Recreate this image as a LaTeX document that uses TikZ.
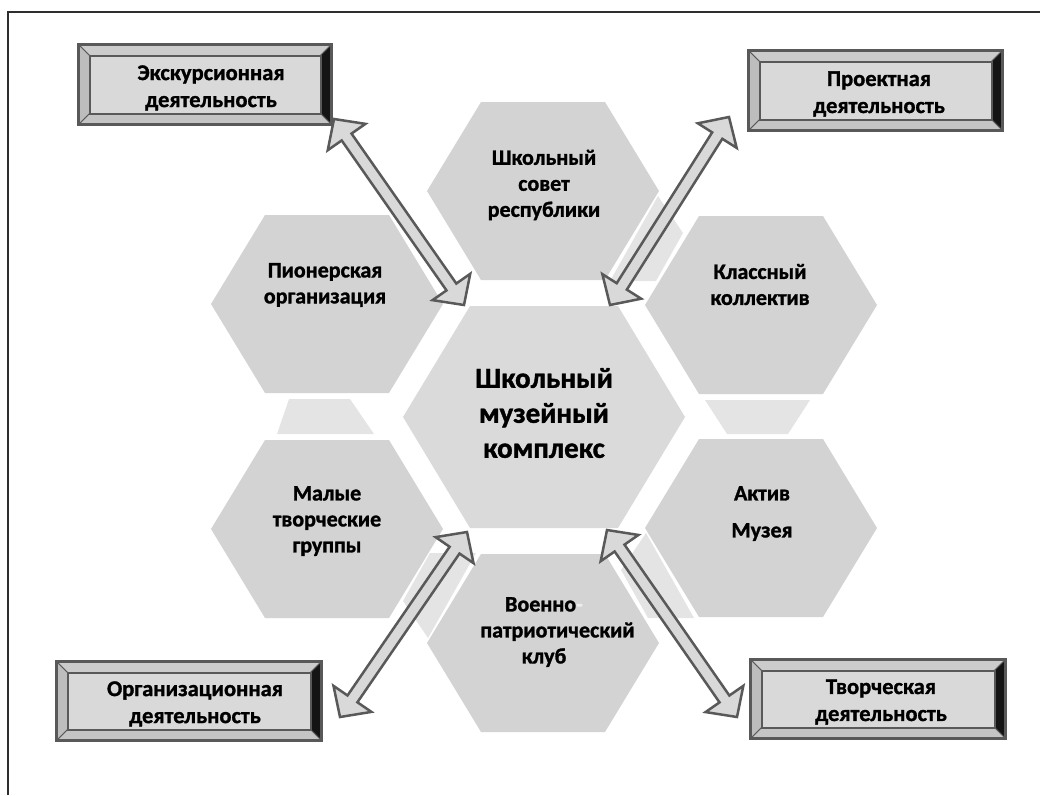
\documentclass[tikz,border=0pt]{standalone}
\usepackage{fontspec}
\setmainfont{Carlito}[BoldFeatures={FakeBold=1.3}]
\usepackage{tikz}
\usetikzlibrary{calc}
\definecolor{hexgray}{HTML}{D3D3D3}
\definecolor{hubgray}{HTML}{DADADA}
\definecolor{gapgray}{HTML}{E4E4E4}
\definecolor{edgegray}{HTML}{595959}
\definecolor{facegray}{HTML}{D9D9D9}
\definecolor{bevtopc}{HTML}{CCCCCC}
\definecolor{bevleftc}{HTML}{BDBDBD}
\definecolor{bevbotc}{HTML}{C4C4C4}
\definecolor{bevrightc}{HTML}{141414}
\definecolor{framec}{HTML}{2E2E2E}
\definecolor{hyphc}{HTML}{EDEDED}
\tikzstyle{hexcell} = [fill=hexgray]
\tikzstyle{hubcell} = [fill=hubgray]
\tikzstyle{gapcell} = [fill=gapgray]
\tikzstyle{celltext} = [inner sep=0,align=center,font=\bfseries\fontsize{22}{26}\selectfont]
\tikzstyle{hubtext} = [celltext,font=\bfseries\fontsize{29}{35}\selectfont]
\tikzstyle{boxtext} = [celltext,font=\bfseries\fontsize{22.5}{27}\selectfont]
\tikzstyle{boxbody} = [fill=facegray,inner sep=0,outer sep=0]
\tikzstyle{bevel} = [draw=edgegray,line width=0.8pt]
\tikzstyle{blockarr} = [draw=edgegray,fill=facegray,line width=2.5pt,line join=miter]
\newcommand\bev{11}
\newcommand\ahl{22pt}
\newcommand\ahw{23pt}
\newcommand\ahs{6pt}
\newcommand\outerhex[1]{\fill[hexcell] (#1) ++(-116,0) -- ++(54,-89) -- ++(124,0) -- ++(54,89) -- ++(-54,89) -- ++(-124,0) -- cycle;}
\newcommand\bevelbox[4]{%
  \node[boxbody,minimum width=#3pt,minimum height=#4pt] (#1) at (#2) {};
  \coordinate (#1-a) at ($(#1.north west)+(\bev,\bev)$);
  \coordinate (#1-b) at ($(#1.north east)+(-\bev,\bev)$);
  \coordinate (#1-c) at ($(#1.south east)+(-\bev,-\bev)$);
  \coordinate (#1-d) at ($(#1.south west)+(\bev,-\bev)$);
  \filldraw[bevel,fill=bevtopc] (#1.north west) -- (#1.north east) -- (#1-b) -- (#1-a) -- cycle;
  \filldraw[bevel,fill=bevrightc] (#1.north east) -- (#1.south east) -- (#1-c) -- (#1-b) -- cycle;
  \filldraw[bevel,fill=bevbotc] (#1.south east) -- (#1.south west) -- (#1-d) -- (#1-c) -- cycle;
  \filldraw[bevel,fill=bevleftc] (#1.south west) -- (#1.north west) -- (#1-a) -- (#1-d) -- cycle;
  \draw[edgegray,line width=2pt] (#1-a) rectangle (#1-c);
  \draw[edgegray,line width=3pt] (#1.north west) rectangle (#1.south east);
}
\newcommand\dblarrow[2]{%
  \draw[blockarr] (#1)
    -- ($(#1)!\ahl!(#2)!\ahw!90:(#2)$)
    -- ($(#1)!\ahl!(#2)!\ahs!90:(#2)$)
    -- ($(#2)!\ahl!(#1)!\ahs!-90:(#1)$)
    -- ($(#2)!\ahl!(#1)!\ahw!-90:(#1)$)
    -- (#2)
    -- ($(#2)!\ahl!(#1)!\ahw!90:(#1)$)
    -- ($(#2)!\ahl!(#1)!\ahs!90:(#1)$)
    -- ($(#1)!\ahl!(#2)!\ahs!-90:(#2)$)
    -- ($(#1)!\ahl!(#2)!\ahw!-90:(#2)$)
    -- cycle;}
\begin{document}
\begin{tikzpicture}[x=1pt,y=-1pt]
    \useasboundingbox (0,0) rectangle (1040,795);
    \draw[framec,line width=1.5pt] (8,795) -- (8,12) -- (1040,12);

    % small pieces between the cells
    \fill[gapcell] (289,399) -- (350,399) -- (374,434) -- (277,434) -- cycle;
    \fill[gapcell] (705,400) -- (810,400) -- (788,434) -- (727,434) -- cycle;
    \fill[gapcell] (658,196) -- (683,233) -- (656,281) -- (610,281) -- cycle;
    \fill[gapcell] (428,638) -- (403,601) -- (430,553) -- (476,553) -- cycle;
    \fill[gapcell] (646,533) -- (621,570) -- (648,618) -- (694,618) -- cycle;

    % cells
    \coordinate (hT) at (543,191);
    \coordinate (hUL) at (327,304);
    \coordinate (hUR) at (761,305);
    \coordinate (hLL) at (327,529);
    \coordinate (hLR) at (761,528);
    \coordinate (hB) at (543,643);
    \coordinate (hC) at (544,417);
    \outerhex{hT}
    \outerhex{hUL}
    \outerhex{hUR}
    \outerhex{hLL}
    \outerhex{hLR}
    \outerhex{hB}
    \fill[hubcell] (hC) ++(-141,0) -- ++(67,-111) -- ++(148,0) -- ++(67,111) -- ++(-67,111) -- ++(-148,0) -- cycle;

    \node[hubtext] (hub) at (544,413) {Школьный\\музейный\\комплекс};
    \node[celltext] (sovet) at (544,185) {Школьный\\совет\\республики};
    \node[celltext] (pioner) at (325,285) {Пионерская\\организация};
    \node[celltext] (klass) at (760,284.5) {Классный\\коллектив};
    \node[celltext] (malye) at (327,521) {Малые\\творческие\\группы};
    \node[celltext] (aktiv) at (762,513.5) {Актив\\[11pt]Музея};
    \node[celltext] (voen) at (544,632) {Военно\textcolor{hyphc}{-}\\\hspace*{27pt}патриотический\\клуб};

    % activity boxes
    \bevelbox{exk}{205,84.5}{253}{80}
    \bevelbox{prj}{875.5,90.5}{254}{80}
    \bevelbox{org}{189,701}{265}{79}
    \bevelbox{tvr}{878,699}{255}{79}
    \node[boxtext] (exk-t) at (211,88) {Экскурсионная\\деятельность};
    \node[boxtext] (prj-t) at (879,94) {Проектная\\деятельность};
    \node[boxtext] (org-t) at (195,704) {Организационная\\деятельность};
    \node[boxtext] (tvr-t) at (881,702) {Творческая\\деятельность};

    % double arrows
    \coordinate (exk-a) at (334,119);
    \coordinate (exk-b) at (464,305);
    \coordinate (prj-a) at (729,117);
    \coordinate (prj-b) at (610,305);
    \coordinate (org-a) at (340,717);
    \coordinate (org-b) at (467,532);
    \coordinate (tvr-a) at (737,717);
    \coordinate (tvr-b) at (607,530);
    \dblarrow{exk-a}{exk-b}
    \dblarrow{prj-a}{prj-b}
    \dblarrow{org-a}{org-b}
    \dblarrow{tvr-a}{tvr-b}

\end{tikzpicture}
\end{document}
